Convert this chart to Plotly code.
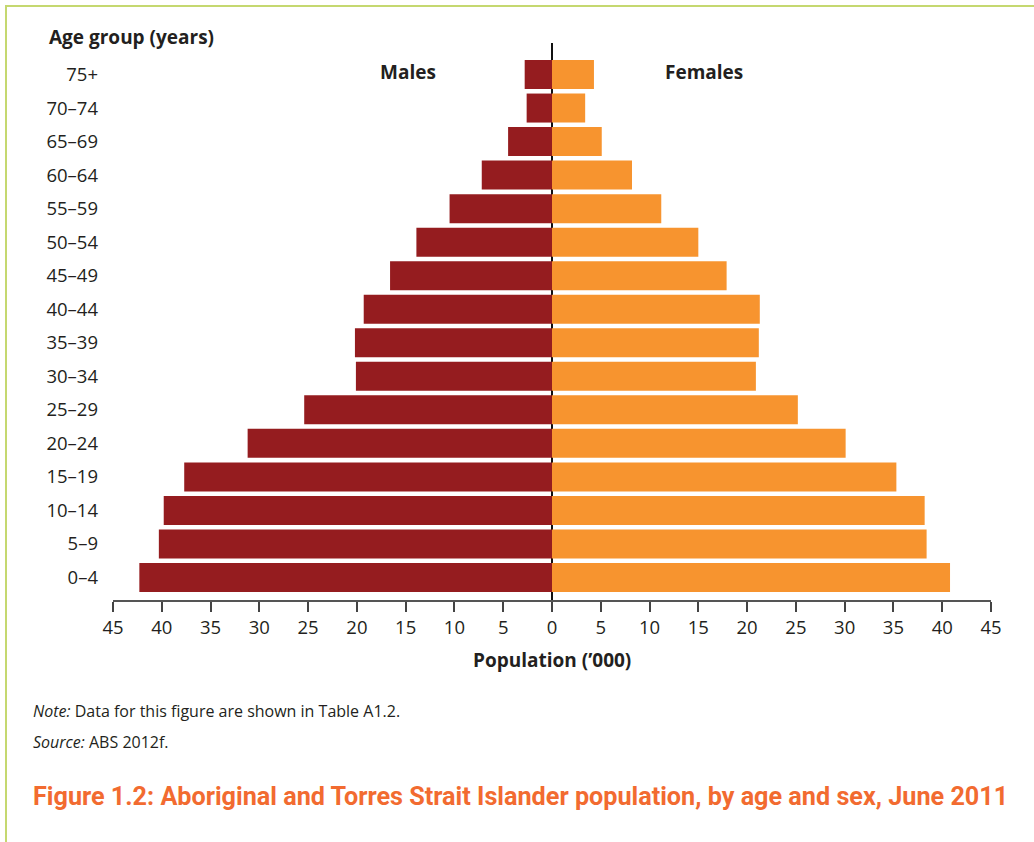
import plotly.graph_objects as go

age_groups = ["0–4", "5–9", "10–14", "15–19", "20–24", "25–29", "30–34", "35–39",
              "40–44", "45–49", "50–54", "55–59", "60–64", "65–69", "70–74", "75+"]
males = [42.3, 40.3, 39.8, 37.7, 31.2, 25.4, 20.1, 20.2, 19.3, 16.6, 13.9, 10.5, 7.2, 4.5, 2.6, 2.8]
females = [40.8, 38.4, 38.2, 35.3, 30.1, 25.2, 20.9, 21.2, 21.3, 17.9, 15.0, 11.2, 8.2, 5.1, 3.4, 4.3]
tick_vals = [-45, -40, -35, -30, -25, -20, -15, -10, -5, 0, 5, 10, 15, 20, 25, 30, 35, 40, 45]
tick_text = [str(abs(v)) for v in tick_vals]

MALE_C = "#951c1f"
FEMALE_C = "#f7942f"
TXT = "#231f20"
FONT = "Open Sans"

fig = go.Figure()
fig.add_trace(go.Bar(y=age_groups, x=[-v for v in males], orientation="h",
                     marker=dict(color=MALE_C, line=dict(width=0)), name="Males",
                     customdata=males, hovertemplate="%{y}: %{customdata}<extra>Males</extra>"))
fig.add_trace(go.Bar(y=age_groups, x=females, orientation="h",
                     marker=dict(color=FEMALE_C, line=dict(width=0)), name="Females",
                     hovertemplate="%{y}: %{x}<extra>Females</extra>"))

fig.update_layout(
    width=1034, height=842,
    margin=dict(l=113, r=43, t=43, b=242, pad=0),
    paper_bgcolor="white", plot_bgcolor="white",
    barmode="overlay", bargap=0.135,
    showlegend=False,
    font=dict(family=FONT, color=TXT, size=16),
    xaxis=dict(range=[-45, 45], tickvals=tick_vals, ticktext=tick_text,
               showgrid=False, zeroline=True, zerolinecolor="#111111", zerolinewidth=2,
               showline=True, linecolor="#555555", linewidth=2,
               ticks="outside", ticklen=10, tickwidth=2, tickcolor="#444444",
               tickfont=dict(size=18.5, family=FONT, color=TXT), layer="above traces"),
    yaxis=dict(type="category", categoryorder="array", categoryarray=age_groups,
               range=[-0.671, 15.94], showgrid=False, zeroline=False, showline=False,
               ticks="", ticklabelstandoff=14,
               tickfont=dict(size=18.5, family=FONT, color=TXT)),
)

def px_x(px):
    return (px - 113) / 878

def px_y(py):
    return 1 - (py - 43) / 557

anns = [
    dict(text="<b>Age group (years)</b>", x=px_x(47), y=px_y(37), xanchor="left", yanchor="middle",
         font=dict(size=19, family=FONT, color=TXT)),
    dict(text="<b>Males</b>", x=px_x(408), y=px_y(72), xanchor="center", yanchor="middle",
         font=dict(size=19, family=FONT, color=TXT)),
    dict(text="<b>Females</b>", x=px_x(704), y=px_y(72), xanchor="center", yanchor="middle",
         font=dict(size=19, family=FONT, color=TXT)),
    dict(text="<b>Population (’000)</b>", x=0.5, y=px_y(660), xanchor="center", yanchor="middle",
         font=dict(size=19, family=FONT, color=TXT)),
    dict(text="<i>Note:</i> Data for this figure are shown in Table A1.2.", x=px_x(31), y=px_y(711),
         xanchor="left", yanchor="middle", font=dict(size=16, family=FONT, color=TXT)),
    dict(text="<i>Source:</i> ABS 2012f.", x=px_x(31), y=px_y(742),
         xanchor="left", yanchor="middle", font=dict(size=16, family=FONT, color=TXT)),
    dict(text="<b>Figure 1.2: Aboriginal and Torres Strait Islander population, by age and sex, June 2011</b>",
         x=px_x(31), y=px_y(796), xanchor="left", yanchor="middle",
         font=dict(size=25.2, family="Roboto", color="#f26b30")),
]
for a in anns:
    a.update(xref="paper", yref="paper", showarrow=False)
fig.update_layout(annotations=anns)

BORDER = "#c5d870"
fig.add_shape(type="line", xref="paper", yref="paper", x0=px_x(6), x1=px_x(1034), y0=px_y(6), y1=px_y(6),
              line=dict(color=BORDER, width=2))
fig.add_shape(type="line", xref="paper", yref="paper", x0=px_x(6), x1=px_x(6), y0=px_y(5), y1=px_y(842),
              line=dict(color=BORDER, width=2))

fig.write_html("out.html", config={"displayModeBar": False},
               post_script="document.body.style.margin='0';document.body.style.overflow='hidden';")
